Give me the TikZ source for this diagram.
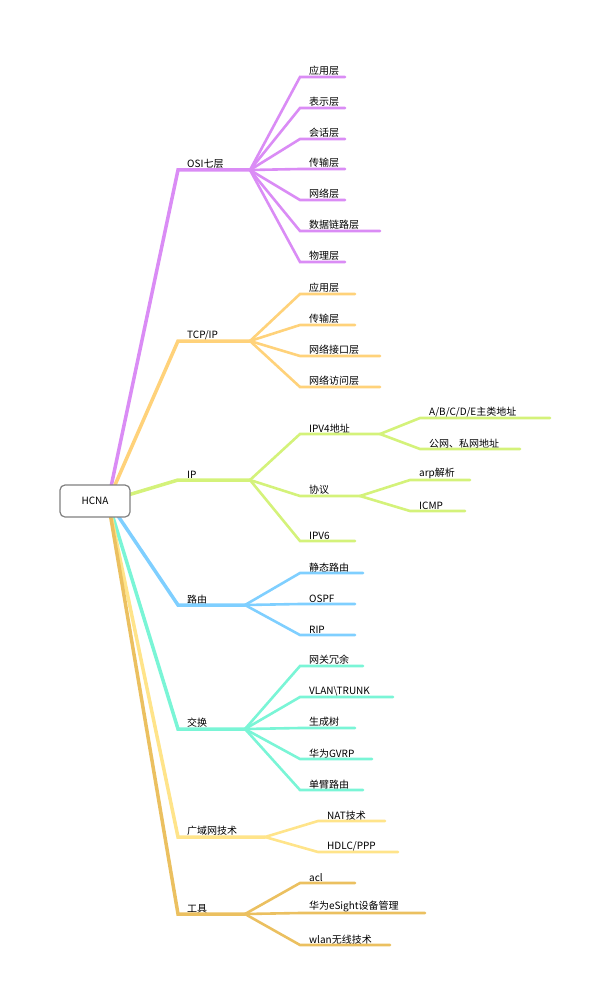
\documentclass[tikz,border=0pt]{standalone}
\usepackage{fontspec}
\setmainfont{Noto Sans CJK SC}
\definecolor{cpur}{HTML}{DA8CF5}
\definecolor{cora}{HTML}{FFD27A}
\definecolor{clim}{HTML}{D4F27A}
\definecolor{cblu}{HTML}{7FCFFF}
\definecolor{ctea}{HTML}{7AF5D6}
\definecolor{cyel}{HTML}{FFE48A}
\definecolor{cgol}{HTML}{EBC060}
\tikzset{lbl/.style={anchor=south west,inner sep=1pt,font=\fontsize{10}{12}\selectfont},
 br/.style={line width=3.5pt,line cap=round},
 lf/.style={line width=2.6pt,line cap=round}}
% \leaf{color}{from}{x1}{x2}{y}{text}{name}{style}
\newcommand\leaf[8]{%
 \coordinate (#7s) at (#3,#5); \coordinate (#7e) at (#4,#5);
 \node[lbl] (#7) at ([xshift=8pt]#7s) {#6};
 \draw[#8,#1] (#2) .. controls ($(#2)!0.5!(#7s)$ |- #2) and ($(#2)!0.5!(#7s)$ |- #7s) .. (#7s) -- (#7e);}
\usetikzlibrary{calc}
\begin{document}
\begin{tikzpicture}[x=1pt,y=-1pt]
\useasboundingbox (0,0) rectangle (609,1003);
\coordinate (root) at (108,501);
\leaf{cpur}{root}{178}{250}{170}{OSI七层}{osi}{br}
\leaf{cora}{root}{178}{250}{341}{TCP/IP}{tcp}{br}
\leaf{clim}{root}{178}{250}{480}{IP}{ip}{br}
\leaf{cblu}{root}{178}{245}{605}{路由}{rt}{br}
\leaf{ctea}{root}{178}{245}{729}{交换}{sw}{br}
\leaf{cyel}{root}{178}{265}{837}{广域网技术}{wan}{br}
\leaf{cgol}{root}{178}{245}{914}{工具}{tool}{br}
% OSI
\leaf{cpur}{osie}{300}{345}{77}{应用层}{o1}{lf}
\leaf{cpur}{osie}{300}{345}{108}{表示层}{o2}{lf}
\leaf{cpur}{osie}{300}{345}{139}{会话层}{o3}{lf}
\leaf{cpur}{osie}{300}{345}{169}{传输层}{o4}{lf}
\leaf{cpur}{osie}{300}{345}{200}{网络层}{o5}{lf}
\leaf{cpur}{osie}{300}{380}{231}{数据链路层}{o6}{lf}
\leaf{cpur}{osie}{300}{345}{262}{物理层}{o7}{lf}
% TCP
\leaf{cora}{tcpe}{300}{355}{294}{应用层}{t1}{lf}
\leaf{cora}{tcpe}{300}{355}{325}{传输层}{t2}{lf}
\leaf{cora}{tcpe}{300}{380}{356}{网络接口层}{t3}{lf}
\leaf{cora}{tcpe}{300}{380}{387}{网络访问层}{t4}{lf}
% IP
\leaf{clim}{ipe}{300}{380}{434}{IPV4地址}{i1}{lf}
\leaf{clim}{ipe}{300}{360}{496}{协议}{i2}{lf}
\leaf{clim}{ipe}{300}{355}{541}{IPV6}{i3}{lf}
\leaf{clim}{i1e}{420}{550}{418}{A/B/C/D/E主类地址}{i11}{lf}
\leaf{clim}{i1e}{420}{520}{449}{公网、私网地址}{i12}{lf}
\leaf{clim}{i2e}{410}{470}{480}{arp解析}{i21}{lf}
\leaf{clim}{i2e}{410}{465}{511}{ICMP}{i22}{lf}
% route
\leaf{cblu}{rte}{300}{363}{573}{静态路由}{r1}{lf}
\leaf{cblu}{rte}{300}{355}{604}{OSPF}{r2}{lf}
\leaf{cblu}{rte}{300}{355}{635}{RIP}{r3}{lf}
% switch
\leaf{ctea}{swe}{300}{363}{666}{网关冗余}{s1}{lf}
\leaf{ctea}{swe}{300}{393}{697}{VLAN\textbackslash TRUNK}{s2}{lf}
\leaf{ctea}{swe}{300}{355}{728}{生成树}{s3}{lf}
\leaf{ctea}{swe}{300}{372}{759}{华为GVRP}{s4}{lf}
\leaf{ctea}{swe}{300}{363}{790}{单臂路由}{s5}{lf}
% wan
\leaf{cyel}{wane}{318}{385}{821}{NAT技术}{w1}{lf}
\leaf{cyel}{wane}{318}{398}{852}{HDLC/PPP}{w2}{lf}
% tool
\leaf{cgol}{toole}{300}{355}{883}{acl}{g1}{lf}
\leaf{cgol}{toole}{300}{425}{913}{华为eSight设备管理}{g2}{lf}
\leaf{cgol}{toole}{300}{390}{945}{wlan无线技术}{g3}{lf}
\node[draw=gray,line width=1.2pt,fill=white,rounded corners=5pt,minimum width=70pt,minimum height=32pt,font=\fontsize{10}{12}\selectfont] (hcna) at (95,501) {HCNA};
\end{tikzpicture}
\end{document}
